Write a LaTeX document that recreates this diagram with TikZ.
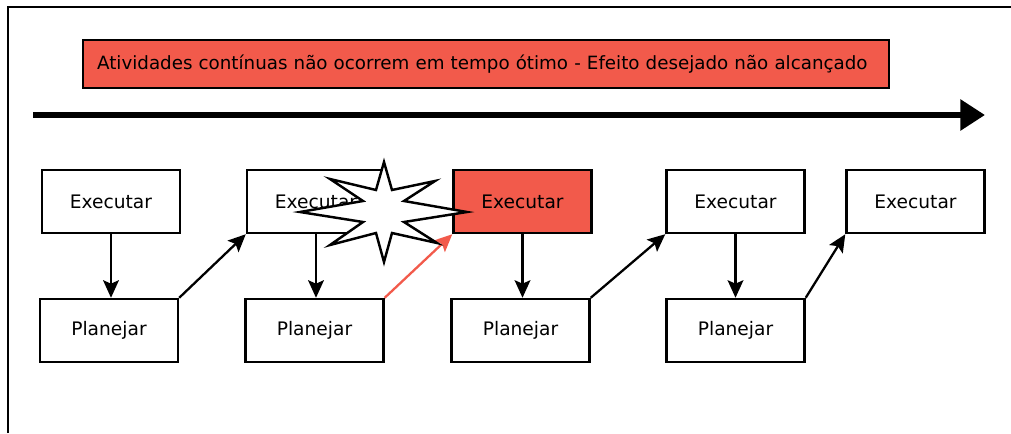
\documentclass[tikz,border=0pt]{standalone}
\usepackage{fontspec}
\setmainfont{DejaVu Sans}
\usetikzlibrary{arrows.meta}
\definecolor{alerta}{RGB}{242,90,75}
\tikzset{
  etapa/.style={draw, line width=1.4pt, fill=white, minimum width=2.76cm, minimum height=1.26cm, font=\fontsize{10.6}{12}\selectfont},
  fluxo/.style={-{Stealth[length=10pt,width=9pt,inset=2pt]}, line width=1.3pt},
}
\begin{document}
\begin{tikzpicture}[x=0.02cm,y=-0.02cm]
        \useasboundingbox (0,0) rectangle (1011,433);

        % Frame
        \draw[line width=1.7pt] (8,433) -- (8,7) -- (1011,7);

        % Banner
        \node[draw, line width=1.4pt, fill=alerta, text width=15.56cm, align=left, inner xsep=0.28cm, minimum height=0.96cm, font=\fontsize{10.4}{12}\selectfont] (faixa) at (486,64) {Atividades contínuas não ocorrem em tempo ótimo - Efeito desejado não alcançado};

        % Time line
        \coordinate (inicio) at (33,115);
        \coordinate (fim) at (985,115);
        \draw[line width=3.4pt, -{Triangle[length=14pt,width=17pt]}] (inicio) -- (fim);

        % Execute row
        \node[etapa] (exec1) at (111,201.5) {Executar};
        \node[etapa] (exec2) at (316,201.5) {Executar};
        \node[etapa, fill=alerta] (exec3) at (522.5,201.5) {Executar};
        \node[etapa] (exec4) at (735.5,201.5) {Executar};
        \node[etapa] (exec5) at (915.5,201.5) {Executar};

        % Plan row
        \node[etapa] (plan1) at (109,330.5) {Planejar};
        \node[etapa] (plan2) at (314.5,330.5) {Planejar};
        \node[etapa] (plan3) at (520.5,330.5) {Planejar};
        \node[etapa] (plan4) at (735.5,330.5) {Planejar};

        % Execute -> plan
        \draw[fluxo] (exec1.south) -- (exec1.south |- plan1.north);
        \draw[fluxo] (exec2.south) -- (exec2.south |- plan2.north);
        \draw[fluxo] (exec3.south) -- (exec3.south |- plan3.north);
        \draw[fluxo] (exec4.south) -- (exec4.south |- plan4.north);

        % Plan -> next execute
        \draw[fluxo] (plan1.north east) -- (exec2.south west);
        \draw[fluxo, draw=alerta, -{Stealth[length=10pt,width=9pt,inset=2pt,fill=alerta]}] (plan2.north east) -- (exec3.south west);
        \draw[fluxo] (plan3.north east) -- (exec4.south west);
        \draw[fluxo] (plan4.north east) -- (exec5.south west);

        % Burst
        \draw[line width=1.4pt, fill=white] (384,162) -- (392,190) -- (435,181) -- (404,201) -- (467,212)
            -- (404,222) -- (437,243) -- (392,233) -- (384,262) -- (376,233) -- (330,245)
            -- (363,222) -- (300,212) -- (363,201) -- (330,179) -- (376,190) -- cycle;
    \end{tikzpicture}
\end{document}
